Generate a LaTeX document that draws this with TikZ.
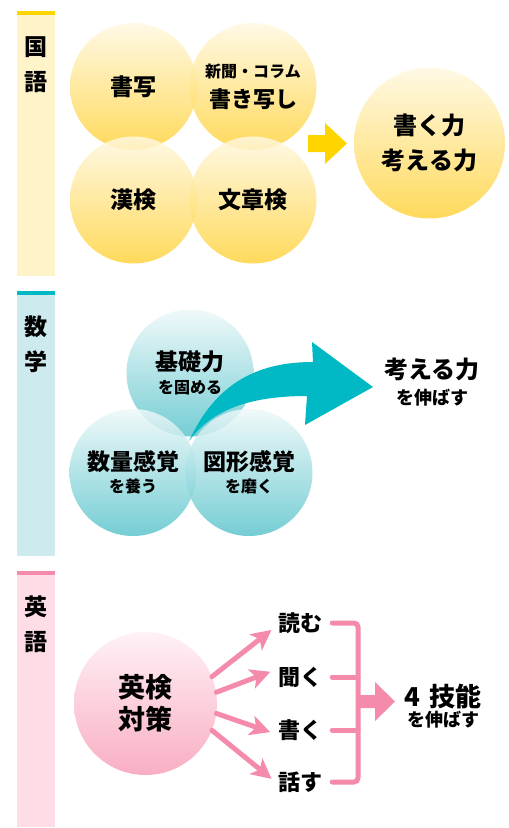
\documentclass[tikz,border=0pt]{standalone}
\usepackage{fontspec}
\setmainfont{Noto Sans CJK JP}
\usetikzlibrary{arrows.meta,calc}
\definecolor{yellowdark}{HTML}{FFD33F}
\definecolor{yellowlight}{HTML}{FFF8E1}
\definecolor{yellowstrip}{HTML}{FFD500}
\definecolor{yellowbar}{HTML}{FFF3C9}
\definecolor{tealdark}{HTML}{5CC5CC}
\definecolor{teallight}{HTML}{EEF8F9}
\definecolor{tealstrip}{HTML}{00B9C5}
\definecolor{tealbar}{HTML}{CDEBEE}
\definecolor{pinkdark}{HTML}{F7A0B8}
\definecolor{pinklight}{HTML}{FFEFF4}
\definecolor{pinkstrip}{HTML}{F48BAA}
\definecolor{pinkbar}{HTML}{FFDDE6}
\newcommand{\jpsize}[2]{\bfseries\fontsize{#1pt}{#2pt}\selectfont}
\tikzset{
  ball/.style = {circle, inner sep=0pt, align=center,
    fill opacity=.85, text opacity=1, shading angle=45},
  yball/.style = {ball, top color=yellowlight, bottom color=yellowdark, minimum size=127pt},
  tball/.style = {ball, top color=teallight, bottom color=tealdark, minimum size=127pt,
    font=\jpsize{23}{22.5}},
  pball/.style = {ball, top color=pinklight, bottom color=pinkdark, minimum size=143pt},
  side/.style = {align=center, inner sep=0pt, font=\jpsize{23}{35}},
  skill/.style = {inner sep=0pt, font=\jpsize{22}{26}},
  pline/.style = {draw=pinkstrip, line width=5pt, line cap=round},
  parrow/.style = {pline, -{Stealth[length=20pt,width=20pt,inset=5pt]}, shorten >=8pt}
}

\begin{document}
\begin{tikzpicture}[x=1pt,y=-1pt]
  \useasboundingbox (0,0) rectangle (509,828);
  % side bars
  \fill[yellowbar] (17,11) rectangle (55,276);
  \fill[yellowstrip] (17,11) rectangle (55,15);
  \node[side] (kokugo) at (36,64.5) {国\\語};
  \fill[tealbar] (17,291) rectangle (55,556);
  \fill[tealstrip] (17,291) rectangle (55,295);
  \node[side] (sugaku) at (36,344.5) {数\\学};
  \fill[pinkbar] (17,571) rectangle (55,827);
  \fill[pinkstrip] (17,571) rectangle (55,575);
  \node[side] (eigo) at (36,624.5) {英\\語};

  % kokugo
  \node[yball, font=\jpsize{23}{28}] (shosha) at (133.5,86.5) {書写};
  \node[yball, font=\jpsize{22}{30}] (shinbun) at (253,86.5)
    {\fontsize{16pt}{20pt}\selectfont 新聞・コラム\\書き写し};
  \node[yball, font=\jpsize{23}{28}] (kanken) at (133.5,200) {漢検};
  \node[yball, font=\jpsize{23}{28}] (bunsho) at (253,200) {文章検};
  \node[yball, minimum size=151pt, font=\jpsize{24}{35}] (kaku) at (429.5,143)
    {書く力\\考える力};
  \fill[yellowstrip] (308,135) -- (325,135) -- (325,123) -- (347,143.5)
    -- (325,164) -- (325,152) -- (308,152) -- cycle;

  % sugaku
  \node[tball] (kiso) at (190,373) {基礎力\\\fontsize{16pt}{20pt}\selectfont を固める};
  \node[tball] (suryo) at (133,472.5) {数量感覚\\\fontsize{16pt}{20pt}\selectfont を養う};
  \node[tball] (zukei) at (249,472.5) {図形感覚\\\fontsize{16pt}{20pt}\selectfont を磨く};
  \fill[tealstrip] (189,441) .. controls (215,385) and (255,362) .. (313,362)
    -- (312,342) -- (373,387) -- (305,425) -- (307,396)
    .. controls (260,396) and (215,405) .. (189,441) -- cycle;
  \node[align=center, font=\jpsize{24}{25.5}] (nobasu) at (432,382)
    {考える力\\\fontsize{18pt}{22pt}\selectfont を伸ばす};

  % eigo
  \node[pball, font=\jpsize{27}{32}] (eiken) at (145.5,703.5) {英検\\対策};
  \node[skill] (yomu) at (300,623) {読む};
  \node[skill] (kiku) at (300,677) {聞く};
  \node[skill] (kaku2) at (300,730) {書く};
  \node[skill] (hanasu) at (300,782) {話す};
  \draw[parrow] (eiken.22) -- (yomu.185);
  \draw[parrow] (eiken.9) -- (kiku.160);
  \draw[parrow] (eiken.-8) -- (kaku2.192);
  \draw[parrow] (eiken.-22) -- (hanasu.185);
  \draw[pline, rounded corners=4pt] ($(yomu.east)+(10,0)$) -| (358,782)
    -- ($(hanasu.east)+(10,0)$);
  \draw[pline] ($(kiku.east)+(10,0)$) -- ++(26,0);
  \draw[pline] ($(kaku2.east)+(10,0)$) -- ++(26,0);
  \fill[pinkstrip] (358,695) -- (375,695) -- (375,682) -- (395,701.5)
    -- (375,721) -- (375,708) -- (358,708) -- cycle;
  \node[align=center, font=\jpsize{26}{20.5}] (gino) at (443,706)
    {4\hspace{9pt}技能\\\fontsize{18pt}{22pt}\selectfont を伸ばす};
\end{tikzpicture}
\end{document}
